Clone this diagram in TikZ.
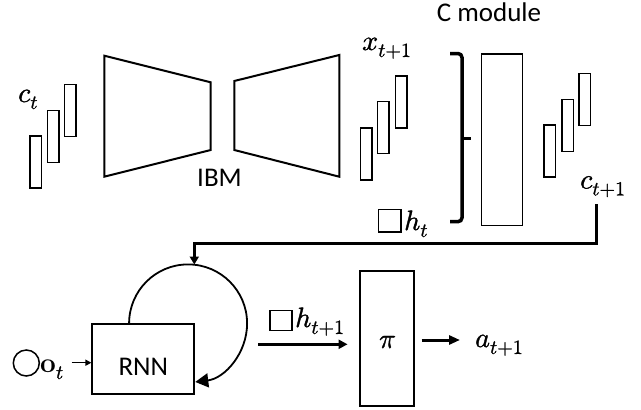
\documentclass[tikz,border=0pt]{standalone}
\usepackage{fontspec}
\usepackage{unicode-math}
\setmathfont{Latin Modern Math}[FakeBold=1.2]
\setsansfont{Carlito}
\usetikzlibrary{arrows.meta}
% subscript set at a fixed, slightly larger size
\newcommand\subsz[1]{_{\hbox{\fontsize{20}{22}\selectfont$#1$}}}
\tikzset{
  bar/.style={draw, line width=1.5pt, minimum width=11.5pt, minimum height=52pt, inner sep=0pt},
  sq/.style={draw, line width=1.5pt, minimum width=21pt, minimum height=21pt, inner sep=0pt},
  block/.style={draw, line width=1.8pt, inner sep=0pt},
  lbl/.style={inner sep=0pt, anchor=base west, font=\fontsize{28}{32}\selectfont},
  sanslbl/.style={inner sep=0pt, anchor=base, font=\sffamily\fontsize{27}{32}\selectfont},
  flow/.style={line width=3pt, -{Triangle[length=9pt,width=9pt]}},
  thinflow/.style={line width=1.5pt, -{Triangle[length=6pt,width=6pt]}},
  trap/.style={line width=2pt, line join=miter},
}
\begin{document}
\begin{tikzpicture}[x=1pt, y=-1pt]
\useasboundingbox (0,0) rectangle (641,410);

% input code c_t
\node[bar] (cb1) at (35.8,162) {};
\node[bar] (cb2) at (53.2,136.7) {};
\node[bar] (cb3) at (70.2,110.7) {};
\node[lbl] (ct) at (18,102) {$c\subsz{t}$};

% IBM encoder / decoder
\draw[trap] (104.3,55.7) -- (210.7,82.3) -- (210.7,150) -- (104.3,176.7) -- cycle;
\draw[trap] (234.3,81) -- (339.3,55) -- (339.3,176.7) -- (234.3,150) -- cycle;
\node[sanslbl] (ibm) at (219.5,186.7) {IBM};

% predicted input x_{t+1}
\node[bar] (xb1) at (366,153.8) {};
\node[bar] (xb2) at (383.2,127.5) {};
\node[bar] (xb3) at (401.2,102) {};
\node[lbl] (xn) at (362,50) {$x\subsz{t{+}1}$};

% hidden state h_t
\node[sq, minimum width=22.5pt, minimum height=22.5pt] (hsq) at (389.7,220.5) {};
\node[lbl] (ht) at (404,230) {$h\subsz{t}$};

% grouping bracket
\draw[line width=3.5pt, rounded corners=4pt] (450,53.5) -| (462,221.7) -- (450,221.7);
\draw[line width=3.5pt] (462,138.3) -- (470.7,138.3);

% C module
\node[sanslbl] (cmodtxt) at (489,21) {C module};
\node[block, line width=1.5pt, minimum width=40.6pt, minimum height=171.7pt] (cmod) at (502,139.8) {};

% output code c_{t+1}
\node[bar] (nb1) at (549.8,150.8) {};
\node[bar] (nb2) at (567.5,125.3) {};
\node[bar] (nb3) at (584.5,99.5) {};
\node[lbl] (cn) at (580,188.5) {$c\subsz{t{+}1}$};

% RNN with recurrent loop
\node[block, minimum width=102pt, minimum height=70pt] (rnn) at (143.3,359.3) {};
\node[sanslbl] (rnntxt) at (143.3,375.7) {RNN};
\draw[line width=1.8pt, -{Triangle[length=13pt,width=14pt]}]
  ([xshift=37.7pt]rnn.north west) arc[start angle=180, end angle=443, radius=59];
\coordinate (looptop) at (194.3,264.5);

% c_{t+1} fed back to the RNN
\coordinate (cdown) at (596.7,204);
\draw[flow, -{Triangle[length=8pt,width=9pt]}] (cdown) -- (596.7,243) -| (looptop);

% observation o_t
\node[draw, circle, line width=1.5pt, minimum size=26pt, inner sep=0pt] (ocirc) at (26.3,363) {};
\node[lbl] (ot) at (40,372) {$\mathbf{o}\subsz{t}$};
\coordinate (ostart) at (71.7,362.7);
\draw[thinflow] (ostart) -- (ostart -| rnn.west);

% hidden state h_{t+1}
\node[sq, minimum width=22pt, minimum height=20pt] (hsq2) at (281.2,320.5) {};
\node[lbl] (htn) at (295,327) {$h\subsz{t{+}1}$};

% policy pi
\node[block, line width=1.5pt, minimum width=54pt, minimum height=135pt] (pi) at (387,338.5) {};
\node[inner sep=0pt, anchor=base, font=\fontsize{28}{32}\selectfont] (pitxt) at (387.5,348) {$\pi$};
\coordinate (hstart) at (258.3,344.3);
\draw[flow, shorten >=11.7pt] (hstart) -- (hstart -| pi.west);

% action a_{t+1}
\node[lbl] (an) at (475,347) {$a\subsz{t{+}1}$};
\coordinate (astart) at (421.7,340);
\draw[flow, -{Triangle[length=11pt,width=9pt]}] (astart) -- (460,340);
\end{tikzpicture}
\end{document}
